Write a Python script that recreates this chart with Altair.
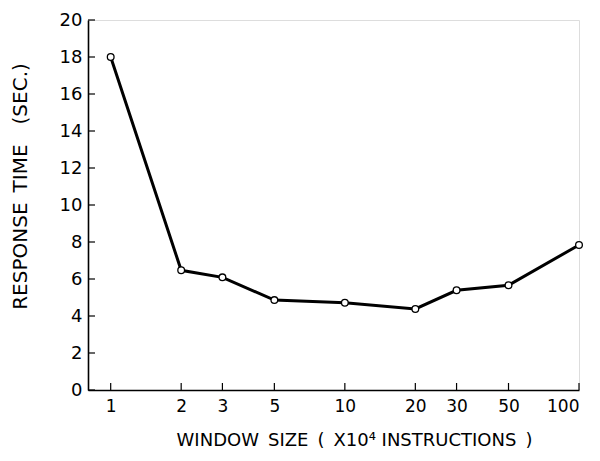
import altair as alt
import pandas as pd

window = [1, 2, 3, 5, 10, 20, 30, 50, 100]
response = [18.0, 6.47, 6.09, 4.86, 4.72, 4.38, 5.39, 5.66, 7.84]
x_ticks = [1, 2, 3, 5, 10, 20, 30, 50, 100]
y_ticks = [0, 2, 4, 6, 8, 10, 12, 14, 16, 18, 20]

df = pd.DataFrame({"window": window, "response": response})
xt = pd.DataFrame({"t": x_ticks})
yt = pd.DataFrame({"t": y_ticks})

FONT = "DejaVu Sans"
W, H = 491, 370
SP = "\u2002"

xscale = alt.Scale(type="log", domain=[0.8, 100])
yscale = alt.Scale(domain=[0, 20])

xaxis = alt.Axis(
    values=x_ticks, format="d", ticks=False, grid=False, labelOverlap=False,
    title=f"WINDOW{SP}SIZE{SP}({SP}X10⁴ INSTRUCTIONS{SP})",
    labelFont=FONT, labelFontSize=17, labelColor="black", labelPadding=8,
    titleFont=FONT, titleFontSize=18, titleFontWeight="normal", titleColor="black",
    titleX=266, titleY=50, titleBaseline="middle",
    domainColor="black", domainWidth=1.6,
)
yaxis = alt.Axis(
    values=y_ticks, ticks=False, grid=False, labelOverlap=False,
    title=f"RESPONSE{SP}TIME{SP}{SP}(SEC.)",
    labelFont=FONT, labelFontSize=18, labelColor="black", labelPadding=6,
    titleFont=FONT, titleFontSize=20, titleFontWeight="normal", titleColor="black",
    titleX=-68, titleY=166, titleBaseline="middle",
    domainColor="black", domainWidth=1.6,
)

line = alt.Chart(df).mark_line(color="black", strokeWidth=3).encode(
    x=alt.X("window:Q", scale=xscale, axis=xaxis),
    y=alt.Y("response:Q", scale=yscale, axis=yaxis),
)
pts = alt.Chart(df).mark_point(
    shape="circle", filled=True, fill="white", stroke="black", strokeWidth=1.3,
    size=45, opacity=1
).encode(x=alt.X("window:Q", scale=xscale, axis=xaxis),
         y=alt.Y("response:Q", scale=yscale, axis=yaxis))

xtick = alt.Chart(xt).mark_rule(color="black", strokeWidth=1.2).encode(
    x=alt.X("t:Q", scale=xscale, axis=xaxis), y=alt.value(H), y2=alt.value(H - 7)
)
ytick = alt.Chart(yt).mark_rule(color="black", strokeWidth=1.2).encode(
    y=alt.Y("t:Q", scale=yscale, axis=yaxis), x=alt.value(0), x2=alt.value(7)
)

chart = alt.layer(xtick, ytick, line, pts).properties(
    width=W, height=H,
    autosize=alt.AutoSizeParams(type="none"),
    padding={"left": 80, "top": 12, "right": 10, "bottom": 60},
).configure_view(stroke=None).configure(background="white")

chart.save("out.html", embed_options={"renderer": "svg", "actions": False})
